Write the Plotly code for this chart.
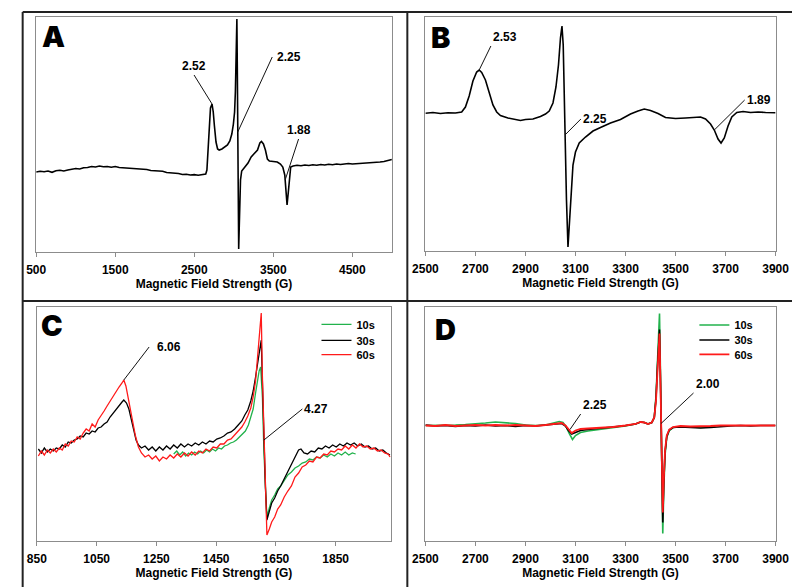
import plotly.graph_objects as go

W, H = 806, 587

# ---------------- Panel A ----------------
a_field = [500, 550, 600, 650, 700, 750, 800, 850, 900, 950, 1000, 1050, 1100, 1150, 1200, 1250,
           1300, 1350, 1400, 1450, 1500, 1550, 1600, 1650, 1700, 1750, 1800, 1850, 1900, 1950,
           2000, 2050, 2100, 2150, 2200, 2250, 2300, 2350, 2400, 2450, 2500, 2550, 2600, 2645,
           2660, 2675, 2690, 2705, 2725, 2740, 2755, 2775, 2795, 2815, 2850, 2880, 2920, 2950,
           2975, 2995, 3010, 3020, 3028, 3035, 3039, 3044, 3049, 3055, 3062, 3068, 3075, 3085,
           3100, 3140, 3180, 3220, 3260, 3300, 3330, 3350, 3375, 3400, 3425, 3450, 3500, 3550,
           3590, 3620, 3645, 3660, 3674, 3690, 3705, 3720, 3750, 3800, 3850, 3900, 3950, 4000,
           4050, 4100, 4150, 4200, 4250, 4300, 4350, 4400, 4450, 4500, 4550, 4600, 4650, 4700,
           4750, 4800, 4850, 4900, 4950, 5000]
a_signal = [0, 0.8, 0.3, 1, -0.3, 1.2, 1.8, 1, 2, 2.5, 3.5, 3, 4.2, 4.5, 5.5, 5,
            6, 5.2, 5.5, 4.8, 5.5, 4.5, 4.2, 3.5, 3.8, 3, 3.2, 2.2, 2.5, 1.5,
            1.2, 0.5, 0.8, -0.5, -0.8, -1.8, -1.5, -2.5, -2.2, -3, -2.6, -3.2, -2.5, -2,
            2, 22, 54, 64, 68, 60, 46, 30, 23, 22, 23, 24.5, 27, 31,
            38, 48, 60, 80, 110, 140, 153, 110, 45, -25, -77, -58, -28, -8,
            1, 5.5, 9, 15, 19, 22, 29, 30.5, 28, 22, 13, 11, 10.5, 10,
            8, 5, -3, -20, -33, -20, -2, 5, 6, 6.8, 6.2, 7, 6.5, 7.2,
            6.8, 7.5, 7, 7.8, 7.2, 8, 7.5, 7.8, 8.5, 8, 8.2, 9, 8.5, 9.2,
            9, 9.8, 10, 10.5, 11.5, 12.5]

# ---------------- Panel B ----------------
b_field = [2500, 2530, 2560, 2590, 2620, 2645, 2660, 2675, 2690, 2705, 2715, 2725, 2740, 2755,
           2770, 2785, 2800, 2830, 2860, 2880, 2900, 2930, 2960, 2980, 2995, 3010, 3022, 3032,
           3040, 3046, 3051, 3055, 3059, 3064, 3070, 3076, 3082, 3090, 3100, 3115, 3140, 3170,
           3200, 3240, 3280, 3320, 3350, 3375, 3400, 3430, 3460, 3500, 3540, 3580, 3600, 3620,
           3640, 3655, 3670, 3682, 3695, 3710, 3725, 3745, 3770, 3800, 3830, 3860, 3900]
b_signal = [-0.3, 0.5, -0.5, 0.2, 0, 1, 6, 17, 32, 41, 43, 40.5, 33, 20,
            8, 1, -2.5, -5, -6.5, -7.5, -6.5, -6, -3.5, -1, 2, 10, 26, 48,
            75, 87, 68, 13, -27, -87, -134, -112, -82, -52, -39, -30, -24, -18,
            -14.5, -10, -6.5, -1, 2, 4, 2.5, -0.5, -4.5, -5.5, -5, -4.5, -4, -6,
            -11, -17, -26, -30, -25, -13, -4, 0.5, 1.5, 0.5, 1, 0.5, 0.2]

# ---------------- Panel C ----------------
c60_field = [855, 865, 875, 885, 895, 905, 915, 925, 935, 945, 955, 965, 975, 985, 995, 1005,
             1015, 1025, 1035, 1045, 1055, 1065, 1075, 1085, 1095, 1105, 1115, 1125, 1135, 1141,
             1148, 1156, 1164, 1172, 1180, 1190, 1200, 1212, 1224, 1236, 1248, 1260, 1272, 1284,
             1296, 1308, 1320, 1332, 1344, 1356, 1368, 1380, 1392, 1404, 1416, 1428, 1440, 1452,
             1464, 1476, 1488, 1500, 1512, 1524, 1536, 1546, 1556, 1566, 1574, 1582, 1588, 1594,
             1598, 1601, 1605, 1610, 1615, 1620, 1628, 1636, 1646, 1656, 1666, 1678, 1690, 1702,
             1714, 1726, 1738, 1750, 1762, 1774, 1786, 1798, 1810, 1822, 1834, 1846, 1858, 1870,
             1882, 1894, 1906, 1918, 1930, 1942, 1954, 1966, 1978, 1990, 2002, 2014, 2026, 2032]
c60_signal = [-3, 2, -2, 3, 0, 4, 1, 5, 3, 9, 7, 12, 11, 16, 14, 20,
              24, 22, 29, 26, 33, 37, 42, 47, 52, 56, 62, 66, 70, 73,
              67, 55, 41, 28, 17, 6, 0, -4, -2, -6, -3, -8, -4, -6,
              -2, -5, -1, -4, 0, -3, 1, -2, 2, 0, 4, 2, 6, 5,
              9, 9, 13, 14, 18, 21, 26, 31, 37, 45, 56, 72, 92, 115,
              130, 140, 75, 13, -40, -82, -76, -69, -64, -56, -52, -44, -38, -33,
              -24, -20, -14, -12, -8, -9, -4, -5, -1, -2, 2, 1, 4, 3,
              7, 4, 8, 5, 9, 6, 7, 4, 5, 2, 3, 0, -1, -4]

c30_field = [855, 865, 875, 885, 895, 905, 915, 925, 935, 945, 955, 965, 975, 985, 995, 1005,
             1015, 1025, 1035, 1045, 1055, 1065, 1075, 1085, 1095, 1105, 1115, 1125, 1135, 1141,
             1150, 1158, 1166, 1174, 1182, 1190, 1200, 1212, 1224, 1236, 1248, 1260, 1272, 1284,
             1296, 1308, 1320, 1332, 1344, 1356, 1368, 1380, 1392, 1404, 1416, 1428, 1440, 1452,
             1464, 1476, 1488, 1500, 1512, 1524, 1536, 1546, 1556, 1566, 1574, 1582, 1588, 1594,
             1598, 1601, 1605, 1610, 1615, 1620, 1628, 1636, 1646, 1656, 1666, 1678, 1690, 1702,
             1714, 1726, 1734, 1744, 1756, 1768, 1780, 1792, 1804, 1816, 1828, 1840, 1852, 1864,
             1876, 1888, 1900, 1912, 1924, 1936, 1948, 1960, 1972, 1984, 1996, 2008, 2020, 2032]
c30_signal = [4, 0, 5, 1, 4, 2, 5, 4, 8, 6, 11, 10, 13, 14, 17, 16,
              20, 19, 22, 21, 25, 26, 29, 31, 36, 40, 44, 48, 51, 53,
              50, 44, 33, 22, 13, 8, 5, 7, 3, 6, 2, 6, 3, 7,
              4, 8, 5, 9, 6, 9, 7, 10, 8, 11, 9, 12, 11, 14,
              15, 17, 20, 21, 24, 28, 32, 38, 43, 52, 62, 76, 89, 102,
              110, 113, 70, 5, -35, -67, -58, -50, -45, -38, -33, -26, -18, -12,
              -4, 3, 4, 0, -1, 2, 1, 5, 4, 7, 5, 8, 6, 9,
              7, 10, 8, 10, 7, 9, 6, 7, 4, 5, 2, 3, 0, -2]

c10_field = [1308, 1318, 1328, 1338, 1348, 1358, 1368, 1378, 1388, 1398, 1408, 1418, 1428, 1438,
             1448, 1458, 1468, 1478, 1488, 1498, 1508, 1518, 1528, 1538, 1548, 1558, 1566, 1574,
             1582, 1588, 1594, 1599, 1605, 1610, 1615, 1620, 1628, 1636, 1646, 1656, 1666, 1678,
             1690, 1702, 1714, 1726, 1738, 1750, 1762, 1774, 1786, 1798, 1810, 1822, 1834, 1846,
             1858, 1870, 1882, 1894, 1906, 1917]
c10_signal = [-1, 2, -2, 1, -3, 0, -2, 1, -1, 2, 0, 3, 1, 4,
              2, 5, 4, 7, 8, 10, 11, 13, 16, 19, 22, 28, 35, 44,
              60, 72, 82, 86, 55, 0, -35, -64, -55, -47, -42, -36, -33, -27,
              -22, -19, -15, -13, -10, -9, -6, -7, -4, -5, -2, -4, -1, -3,
              0, -2, 1, -2, 0, -1]

# ---------------- Panel D ----------------
d60_field = [2500, 2540, 2580, 2620, 2660, 2700, 2740, 2780, 2820, 2860, 2900, 2940, 2980, 3020,
             3045, 3060, 3072, 3085, 3100, 3120, 3150, 3200, 3250, 3300, 3340, 3360, 3375, 3390,
             3405, 3415, 3422, 3428, 3433, 3436, 3440, 3443, 3446, 3449, 3453, 3458, 3465, 3475,
             3490, 3520, 3560, 3600, 3640, 3680, 3720, 3760, 3800, 3840, 3880, 3900]
d60_signal = [0, -0.5, 0.5, -0.5, 0, 0.5, 0, 0.5, 0, 0.5, 0, -0.5, 0.5, 1.5,
              2.5, 0, -4, -7.5, -5, -3.5, -3, -2.5, -1.5, 0, 1.5, 3.5, 3, 1.5,
              3, 8, 25, 55, 85, 92, 40, -20, -70, -87, -55, -25, -10, -4,
              -1.5, -0.5, -1, -1, -0.5, 0, 0, 0.5, 0, 0.5, 0, 0]

d30_field = [2500, 2540, 2580, 2620, 2660, 2700, 2740, 2780, 2820, 2860, 2900, 2940, 2980, 3020,
             3045, 3060, 3072, 3085, 3100, 3120, 3150, 3200, 3250, 3300, 3340, 3360, 3375, 3390,
             3405, 3415, 3422, 3428, 3433, 3436, 3440, 3443, 3446, 3449, 3453, 3458, 3465, 3475,
             3490, 3520, 3560, 3600, 3640, 3680, 3720, 3760, 3800, 3840, 3880, 3900]
d30_signal = [0.5, -0.5, 0, -1, 0, -0.5, 0.5, -0.5, 0, -1, 0, -0.5, 0.5, 1,
              2, -0.5, -5, -8.5, -7, -5, -4, -3, -1.5, 0, 1.5, 3.5, 3, 1.5,
              3, 8, 27, 60, 88, 96, 42, -22, -75, -97, -58, -27, -11, -4.5,
              -2, -1.5, -2, -2.5, -2, -1, -0.5, 0, -0.5, 0, -0.5, 0]

d10_field = [2500, 2540, 2580, 2620, 2660, 2700, 2740, 2780, 2820, 2860, 2900, 2940, 2980, 3010,
             3035, 3050, 3062, 3075, 3088, 3100, 3120, 3150, 3200, 3250, 3300, 3340, 3360, 3375,
             3390, 3405, 3415, 3422, 3428, 3433, 3436, 3440, 3443, 3446, 3449, 3453, 3458, 3465,
             3475, 3490, 3520, 3560, 3600, 3640, 3660]
d10_signal = [0, 0, 0.5, 0.5, 1, 1.5, 2.5, 3.5, 3, 2, 0.5, 0, 0.5, 2,
              4, 3, -1, -8, -14, -10, -7, -5.5, -4, -2.5, -0.5, 1.5, 3.5, 3,
              1.5, 3, 8, 30, 70, 100, 112, 50, -25, -80, -108, -65, -30, -12,
              -5, -2, -1, -1.5, -2, -1.5, -1]

GREEN = "#22b24c"
RED = "#ff1a1a"
BLACK = "#000000"
FRAME = "#8c8c8c"
FONT = "Liberation Sans, Arial, sans-serif"


def px_x(p):
    return p / W


def px_y(p):
    return 1 - p / H


fig = go.Figure()

fig.add_trace(go.Scatter(x=a_field, y=a_signal, mode="lines", line=dict(color=BLACK, width=1.6),
                         xaxis="x", yaxis="y", showlegend=False, name="A"))
fig.add_trace(go.Scatter(x=b_field, y=b_signal, mode="lines", line=dict(color=BLACK, width=1.6),
                         xaxis="x2", yaxis="y2", showlegend=False, name="B"))

fig.add_trace(go.Scatter(x=c10_field, y=c10_signal, mode="lines", line=dict(color=GREEN, width=1.3),
                         xaxis="x3", yaxis="y3", name="10s", legend="legend"))
fig.add_trace(go.Scatter(x=c30_field, y=c30_signal, mode="lines", line=dict(color=BLACK, width=1.3),
                         xaxis="x3", yaxis="y3", name="30s", legend="legend2"))
fig.add_trace(go.Scatter(x=c60_field, y=c60_signal, mode="lines", line=dict(color=RED, width=1.3),
                         xaxis="x3", yaxis="y3", name="60s", legend="legend3"))

fig.add_trace(go.Scatter(x=d10_field, y=d10_signal, mode="lines", line=dict(color=GREEN, width=1.6),
                         xaxis="x4", yaxis="y4", name="10s", legend="legend4"))
fig.add_trace(go.Scatter(x=d30_field, y=d30_signal, mode="lines", line=dict(color=BLACK, width=1.6),
                         xaxis="x4", yaxis="y4", name="30s", legend="legend5"))
fig.add_trace(go.Scatter(x=d60_field, y=d60_signal, mode="lines", line=dict(color=RED, width=1.8),
                         xaxis="x4", yaxis="y4", name="60s", legend="legend6"))

tickfont = dict(family=FONT, size=12, color="black", weight="bold")
titlefont = dict(family=FONT, size=12, color="black", weight="bold")


def xax(dom, rng, tick0, dtick, anchor):
    return dict(domain=[px_x(dom[0]), px_x(dom[1])], range=rng, anchor=anchor,
                showline=True, mirror=True, linecolor=FRAME, linewidth=1,
                ticks="outside", ticklen=4, tickcolor=FRAME, tickwidth=1,
                ticklabelstandoff=3,
                tick0=tick0, dtick=dtick, tickfont=tickfont, showgrid=False, zeroline=False,
                title=dict(text="Magnetic Field Strength (G)", font=titlefont, standoff=2))


def yax(dom, rng, anchor):
    return dict(domain=[px_y(dom[1]), px_y(dom[0])], range=rng, anchor=anchor,
                showline=True, mirror=True, linecolor=FRAME, linewidth=1,
                showticklabels=False, ticks="", showgrid=False, zeroline=False)


legfont = dict(family=FONT, size=11, color="black", weight="bold")


def leg(xp, ytop):
    return dict(x=px_x(xp), y=px_y(ytop), xanchor="left", yanchor="top",
                bgcolor="rgba(0,0,0,0)", borderwidth=0, itemwidth=30, font=legfont)


fig.update_layout(
    width=W, height=H, margin=dict(l=0, r=0, t=0, b=0),
    paper_bgcolor="white", plot_bgcolor="white",
    xaxis=xax((24, 392), [500, 5000], 500, 1000, "y"),
    yaxis=yax((17, 252), [-80, 155], "x"),
    xaxis2=xax((426.7, 789), [2500, 3900], 2500, 200, "y2"),
    yaxis2=yax((17, 251), [-138, 96], "x2"),
    xaxis3=xax((24.7, 391), [850, 2035], 850, 200, "y3"),
    yaxis3=yax((307, 541), [-88, 146], "x3"),
    xaxis4=xax((426.7, 789), [2500, 3900], 2500, 200, "y4"),
    yaxis4=yax((307, 541), [-115.5, 118.5], "x4"),
    legend=leg(314, 309.8),
    legend2=leg(314, 325.8),
    legend3=leg(314, 340.2),
    legend4=leg(705, 310.5),
    legend5=leg(705, 325.5),
    legend6=leg(705, 339.8),
)

# Panel dividers
dcol = "#222222"
shapes = [
    dict(type="line", xref="paper", yref="paper", x0=px_x(10), x1=1, y0=px_y(12), y1=px_y(12)),
    dict(type="line", xref="paper", yref="paper", x0=px_x(10), x1=1, y0=px_y(301), y1=px_y(301)),
    dict(type="line", xref="paper", yref="paper", x0=px_x(10), x1=px_x(10), y0=px_y(12), y1=0),
    dict(type="line", xref="paper", yref="paper", x0=px_x(408), x1=px_x(408), y0=px_y(12), y1=0),
]
for s in shapes:
    s["line"] = dict(color=dcol, width=2)
fig.update_layout(shapes=shapes)

annfont = dict(family=FONT, size=12, color="black", weight="bold")


def peak_label(text, xr, yr, x, y, ax, ay, xanchor, yanchor, pad=1):
    return dict(text=text, xref=xr, yref=yr, x=x, y=y, ax=ax, ay=ay, axref="pixel", ayref="pixel",
                showarrow=True, arrowhead=0, arrowwidth=1, arrowcolor="#111111", standoff=0,
                xanchor=xanchor, yanchor=yanchor, borderpad=pad, font=annfont)


anns = [
    peak_label("2.52", "x", "y", 2725, 68, -18, -29, "center", "bottom"),
    peak_label("2.25", "x", "y", 3050, 40, 34.5, -75, "left", "middle", 4),
    peak_label("1.88", "x", "y", 3650, -8, 13.4, -41, "center", "bottom"),
    peak_label("2.53", "x2", "y2", 2715, 43, 11.7, -24, "left", "bottom"),
    peak_label("2.25", "x2", "y2", 3058, -22, 15.9, -16, "left", "middle"),
    peak_label("1.89", "x2", "y2", 3655, -17, 30.4, -30, "left", "middle"),
    peak_label("6.06", "x3", "y3", 1141, 73, 25.3, -33, "left", "middle", 7),
    peak_label("4.27", "x3", "y3", 1610, 13, 38.4, -31, "left", "middle"),
    peak_label("2.25", "x4", "y4", 3078, -4, 10.7, -15.5, "left", "bottom"),
    peak_label("2.00", "x4", "y4", 3442, 2, 32.5, -30.5, "left", "bottom"),
]

letterfont = dict(family="Inter, DejaVu Sans, sans-serif", size=29, color="black", weight=900)
for letter, cx, cy in [("A", 41.5, 36.5), ("B", 442.5, 37.5), ("C", 40, 325.5), ("D", 447, 329)]:
    anns.append(dict(text=letter, xref="paper", yref="paper", x=px_x(cx), y=px_y(cy),
                     xanchor="center", yanchor="middle", showarrow=False, font=letterfont))

fig.update_layout(annotations=anns)

fig.write_html("out.html", config={"displayModeBar": False},
               post_script="document.body.style.margin='0px';document.body.style.overflow='hidden';")
